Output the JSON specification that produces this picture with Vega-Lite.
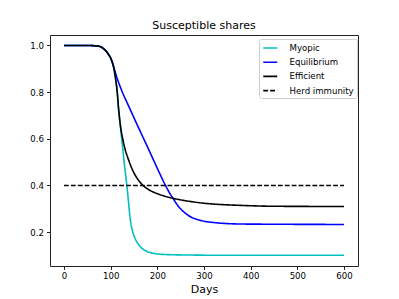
{
  "$schema": "https://vega.github.io/schema/vega-lite/v6.json",
  "width": 308,
  "height": 231,
  "autosize": "none",
  "padding": {"left": 50, "top": 35, "right": 41, "bottom": 33},
  "background": "white",
  "title": {"text": "Susceptible shares", "fontSize": 11, "font": "DejaVu Sans", "fontWeight": "normal", "color": "#000", "offset": 4, "anchor": "middle"},
  "config": {
    "view": {"stroke": "#222", "strokeWidth": 1},
    "font": "DejaVu Sans",
    "axis": {"domain": false, "grid": false, "tickSize": 3.5, "tickColor": "#222", "labelColor": "#000", "labelFontSize": 8.6, "labelFont": "DejaVu Sans", "titleFont": "DejaVu Sans", "titleFontWeight": "normal", "titleColor": "#000"}
  },
  "data": {"values": [
    {"series": "Myopic", "day": 0, "value": 1.0},
    {"series": "Myopic", "day": 50, "value": 1.0},
    {"series": "Myopic", "day": 70, "value": 0.998},
    {"series": "Myopic", "day": 78, "value": 0.995},
    {"series": "Myopic", "day": 85, "value": 0.986},
    {"series": "Myopic", "day": 90, "value": 0.976},
    {"series": "Myopic", "day": 95, "value": 0.963},
    {"series": "Myopic", "day": 100, "value": 0.946},
    {"series": "Myopic", "day": 103, "value": 0.931},
    {"series": "Myopic", "day": 106, "value": 0.91},
    {"series": "Myopic", "day": 108, "value": 0.89},
    {"series": "Myopic", "day": 110, "value": 0.865},
    {"series": "Myopic", "day": 112, "value": 0.836},
    {"series": "Myopic", "day": 113.5, "value": 0.812},
    {"series": "Myopic", "day": 117, "value": 0.728},
    {"series": "Myopic", "day": 120, "value": 0.67},
    {"series": "Myopic", "day": 125, "value": 0.575},
    {"series": "Myopic", "day": 130, "value": 0.48},
    {"series": "Myopic", "day": 134.7, "value": 0.4},
    {"series": "Myopic", "day": 137, "value": 0.355},
    {"series": "Myopic", "day": 139, "value": 0.313},
    {"series": "Myopic", "day": 141, "value": 0.272},
    {"series": "Myopic", "day": 143, "value": 0.242},
    {"series": "Myopic", "day": 145.5, "value": 0.215},
    {"series": "Myopic", "day": 148.7, "value": 0.192},
    {"series": "Myopic", "day": 154, "value": 0.166},
    {"series": "Myopic", "day": 159.4, "value": 0.148},
    {"series": "Myopic", "day": 166, "value": 0.133},
    {"series": "Myopic", "day": 174, "value": 0.121},
    {"series": "Myopic", "day": 184, "value": 0.113},
    {"series": "Myopic", "day": 195, "value": 0.108},
    {"series": "Myopic", "day": 220, "value": 0.104},
    {"series": "Myopic", "day": 270, "value": 0.102},
    {"series": "Myopic", "day": 350, "value": 0.101},
    {"series": "Myopic", "day": 600, "value": 0.101},
    {"series": "Equilibrium", "day": 0, "value": 1.0},
    {"series": "Equilibrium", "day": 50, "value": 1.0},
    {"series": "Equilibrium", "day": 70, "value": 0.998},
    {"series": "Equilibrium", "day": 78, "value": 0.995},
    {"series": "Equilibrium", "day": 85, "value": 0.986},
    {"series": "Equilibrium", "day": 90, "value": 0.976},
    {"series": "Equilibrium", "day": 95, "value": 0.963},
    {"series": "Equilibrium", "day": 100, "value": 0.946},
    {"series": "Equilibrium", "day": 103, "value": 0.931},
    {"series": "Equilibrium", "day": 106, "value": 0.912},
    {"series": "Equilibrium", "day": 110, "value": 0.884},
    {"series": "Equilibrium", "day": 115, "value": 0.853},
    {"series": "Equilibrium", "day": 120, "value": 0.826},
    {"series": "Equilibrium", "day": 125, "value": 0.8},
    {"series": "Equilibrium", "day": 135, "value": 0.756},
    {"series": "Equilibrium", "day": 145, "value": 0.712},
    {"series": "Equilibrium", "day": 155, "value": 0.668},
    {"series": "Equilibrium", "day": 165, "value": 0.625},
    {"series": "Equilibrium", "day": 175, "value": 0.582},
    {"series": "Equilibrium", "day": 185, "value": 0.539},
    {"series": "Equilibrium", "day": 195, "value": 0.495},
    {"series": "Equilibrium", "day": 205, "value": 0.452},
    {"series": "Equilibrium", "day": 215, "value": 0.41},
    {"series": "Equilibrium", "day": 222, "value": 0.383},
    {"series": "Equilibrium", "day": 228, "value": 0.362},
    {"series": "Equilibrium", "day": 234, "value": 0.344},
    {"series": "Equilibrium", "day": 240, "value": 0.325},
    {"series": "Equilibrium", "day": 247, "value": 0.306},
    {"series": "Equilibrium", "day": 255, "value": 0.29},
    {"series": "Equilibrium", "day": 262, "value": 0.278},
    {"series": "Equilibrium", "day": 272, "value": 0.265},
    {"series": "Equilibrium", "day": 283, "value": 0.256},
    {"series": "Equilibrium", "day": 300, "value": 0.247},
    {"series": "Equilibrium", "day": 318, "value": 0.242},
    {"series": "Equilibrium", "day": 340, "value": 0.238},
    {"series": "Equilibrium", "day": 376, "value": 0.235},
    {"series": "Equilibrium", "day": 450, "value": 0.234},
    {"series": "Equilibrium", "day": 600, "value": 0.233},
    {"series": "Efficient", "day": 0, "value": 1.0},
    {"series": "Efficient", "day": 50, "value": 1.0},
    {"series": "Efficient", "day": 70, "value": 0.998},
    {"series": "Efficient", "day": 78, "value": 0.995},
    {"series": "Efficient", "day": 85, "value": 0.986},
    {"series": "Efficient", "day": 90, "value": 0.976},
    {"series": "Efficient", "day": 95, "value": 0.963},
    {"series": "Efficient", "day": 100, "value": 0.946},
    {"series": "Efficient", "day": 103, "value": 0.931},
    {"series": "Efficient", "day": 106, "value": 0.91},
    {"series": "Efficient", "day": 108, "value": 0.89},
    {"series": "Efficient", "day": 110, "value": 0.865},
    {"series": "Efficient", "day": 112, "value": 0.836},
    {"series": "Efficient", "day": 113.5, "value": 0.812},
    {"series": "Efficient", "day": 117, "value": 0.728},
    {"series": "Efficient", "day": 119.5, "value": 0.68},
    {"series": "Efficient", "day": 122, "value": 0.641},
    {"series": "Efficient", "day": 126, "value": 0.598},
    {"series": "Efficient", "day": 131, "value": 0.555},
    {"series": "Efficient", "day": 138, "value": 0.512},
    {"series": "Efficient", "day": 147, "value": 0.466},
    {"series": "Efficient", "day": 157, "value": 0.43},
    {"series": "Efficient", "day": 163, "value": 0.414},
    {"series": "Efficient", "day": 169, "value": 0.401},
    {"series": "Efficient", "day": 177, "value": 0.388},
    {"series": "Efficient", "day": 188, "value": 0.375},
    {"series": "Efficient", "day": 200, "value": 0.365},
    {"series": "Efficient", "day": 215, "value": 0.355},
    {"series": "Efficient", "day": 234, "value": 0.345},
    {"series": "Efficient", "day": 260, "value": 0.335},
    {"series": "Efficient", "day": 300, "value": 0.324},
    {"series": "Efficient", "day": 340, "value": 0.318},
    {"series": "Efficient", "day": 376, "value": 0.315},
    {"series": "Efficient", "day": 450, "value": 0.311},
    {"series": "Efficient", "day": 600, "value": 0.31},
    {"series": "Herd immunity", "day": 0, "value": 0.4},
    {"series": "Herd immunity", "day": 600, "value": 0.4}
  ]},
  "mark": {"type": "line", "strokeWidth": 1.6, "interpolate": "monotone"},
  "encoding": {
    "x": {"field": "day", "type": "quantitative", "scale": {"domain": [-30, 630], "nice": false, "zero": false},
      "axis": {"values": [0, 100, 200, 300, 400, 500, 600], "title": "Days", "titleFontSize": 11, "labelPadding": 2, "titlePadding": 3}},
    "y": {"field": "value", "type": "quantitative", "scale": {"domain": [0.055, 1.045], "nice": false, "zero": false},
      "axis": {"values": [0.2, 0.4, 0.6, 0.8, 1.0], "format": ".1f", "title": null, "labelPadding": 3}},
    "color": {"field": "series", "type": "nominal",
      "scale": {"domain": ["Myopic", "Equilibrium", "Efficient", "Herd immunity"], "range": ["#00bfbf", "#0000ff", "#000000", "#000000"]},
      "legend": {"title": null, "orient": "none", "legendX": 209, "legendY": 4, "symbolType": "M-0.9,0H1.76", "symbolSize": 110, "symbolStrokeWidth": 1.6, "labelFontSize": 8.6, "labelFont": "DejaVu Sans", "labelColor": "#000", "labelOffset": 15, "rowPadding": 2.2, "padding": 2.5, "strokeColor": "#d0d0d0", "fillColor": "white", "cornerRadius": 2}},
    "strokeDash": {"field": "series", "type": "nominal",
      "scale": {"domain": ["Myopic", "Equilibrium", "Efficient", "Herd immunity"], "range": [[1, 0], [1, 0], [1, 0], [4.8, 2.1]]},
      "legend": {"title": null, "orient": "none", "legendX": 209, "legendY": 4, "symbolType": "M-0.9,0H1.76", "symbolSize": 110, "symbolStrokeWidth": 1.6, "labelFontSize": 8.6, "labelFont": "DejaVu Sans", "labelColor": "#000", "labelOffset": 15, "rowPadding": 2.2, "padding": 2.5, "strokeColor": "#d0d0d0", "fillColor": "white", "cornerRadius": 2}}
  }
}
